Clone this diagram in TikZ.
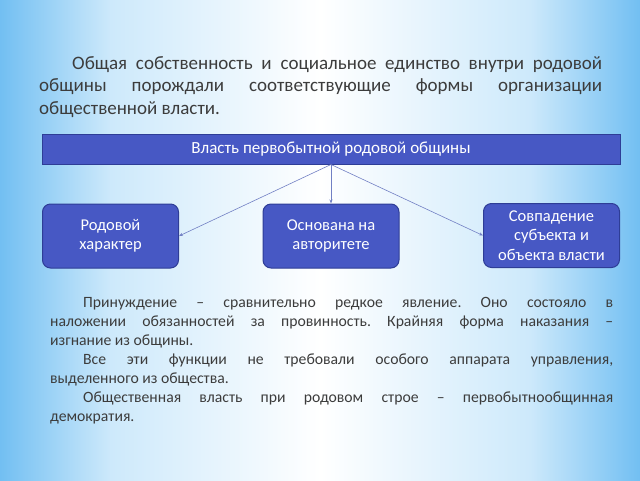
\documentclass[tikz,border=0pt]{standalone}
\usepackage{fontspec}
\setmainfont{Carlito}
\usetikzlibrary{arrows.meta}
\definecolor{bgblue}{HTML}{72BFF2}
\definecolor{bglight}{HTML}{CDE9FB}
\definecolor{boxfill}{HTML}{4758C4}
\definecolor{boxline}{HTML}{2E3D96}
\definecolor{txt}{HTML}{3C3C3C}
\definecolor{connc}{HTML}{7280C4}
\frenchspacing
\begin{document}
\begin{tikzpicture}[x=1pt,y=-1pt,
  bluebox/.style={draw=boxline, line width=1pt, fill=boxfill, text=white,
    rounded corners=8pt, minimum width=136pt, minimum height=64pt,
    align=center, font=\fontsize{16.5}{19.5}\selectfont, inner sep=0pt},
  connector/.style={draw=connc, line width=0.6pt, -{Stealth[length=4pt,width=3pt]}},
  para/.style={text=txt, align=justify, inner sep=0pt, anchor=north west}]
\useasboundingbox (0,0) rectangle (640,480);
% background
\shade[left color=bgblue, right color=bglight] (0,0) rectangle (110.5,480);
\shade[left color=bglight, right color=white] (110,0) rectangle (320.5,480);
\shade[left color=white, right color=bglight] (320,0) rectangle (530.5,480);
\shade[left color=bglight, right color=bgblue] (530,0) rectangle (640,480);
% top paragraph
\node[para, text width=563pt, font=\fontsize{19}{22.6}\selectfont] (p1) at (39,56)
 {\hspace*{33pt}Общая собственность и социальное единство внутри родовой\linebreak
  общины порождали соответствующие формы организации\linebreak
  общественной власти.};
% bar
\node[draw=boxline, line width=1pt, fill=boxfill, text=white, minimum width=578pt,
  minimum height=30pt, inner sep=0pt, font=\fontsize{17}{19}\selectfont] (bar) at (331,149)
  {Власть первобытной родовой общины};
% boxes
\node[bluebox] (left) at (110.5,236) {Родовой\\характер};
\node[bluebox] (mid) at (331,236) {Основана на\\авторитете};
\node[bluebox] (right) at (551.5,235.5) {Совпадение\\субъекта и\\объекта власти};
% connectors
\draw[connector] (bar.south) -- (left.east);
\draw[connector] (bar.south) -- (mid.north);
\draw[connector] (bar.south) -- (right.west);
% bottom paragraph
\node[para, text width=563pt, font=\fontsize{15.7}{19}\selectfont] (p2) at (50,297)
 {\hspace*{33pt}Принуждение – сравнительно редкое явление. Оно состояло в\linebreak
  наложении обязанностей за провинность. Крайняя форма наказания –\linebreak
  изгнание из общины.\par
  \hspace*{33pt}Все эти функции не требовали особого аппарата управления,\linebreak
  выделенного из общества.\par
  \hspace*{33pt}Общественная власть при родовом строе – первобытнообщинная\linebreak
  демократия.};
\end{tikzpicture}
\end{document}
